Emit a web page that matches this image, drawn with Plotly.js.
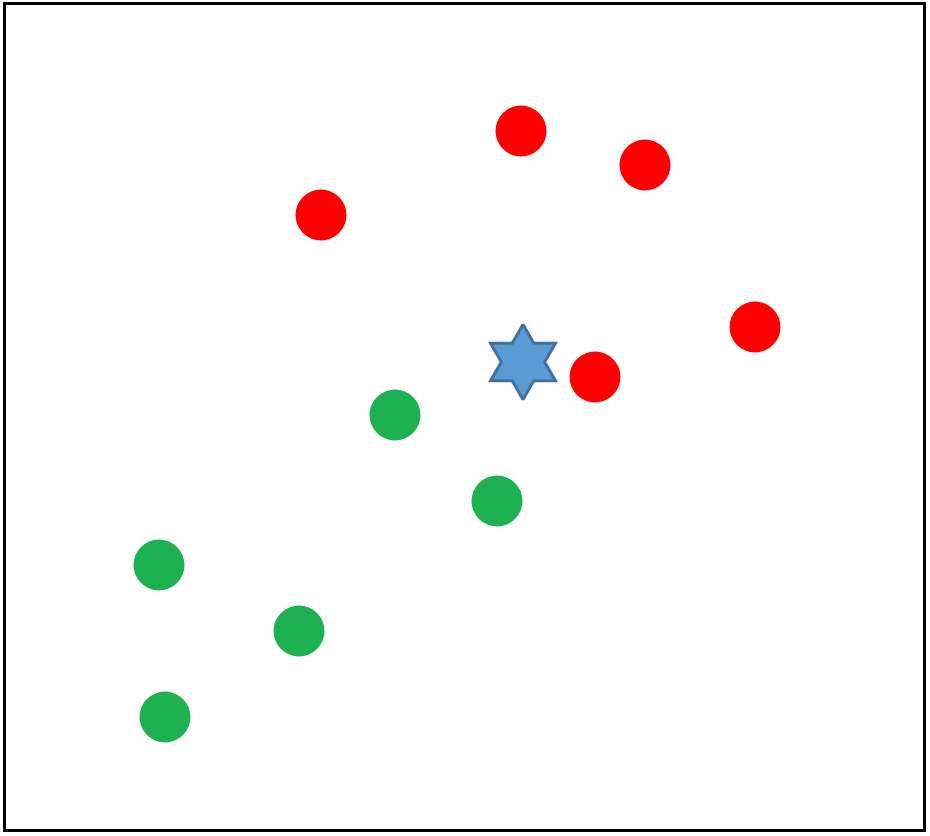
<!DOCTYPE html>
<html>
<head>
<meta charset="utf-8">
<script src="https://cdn.plot.ly/plotly-3.0.1.min.js"></script>
<style>html,body{margin:0;padding:0;background:#fff;}#chart{width:930px;height:836px;}</style>
</head>
<body>
<div id="chart"></div>
<script>
const redX = [521, 645, 321, 755, 595];
const redY = [131, 165, 215, 327, 377];
const greenX = [395, 497, 159, 299, 165];
const greenY = [415, 501, 565, 631, 717];
const starX = [523];
const starY = [362];

const traces = [
  {x: redX, y: redY, type: 'scatter', mode: 'markers', name: 'red',
   marker: {color: '#FF0000', size: 51, line: {width: 0}}},
  {x: greenX, y: greenY, type: 'scatter', mode: 'markers', name: 'green',
   marker: {color: '#1DB151', size: 51, line: {width: 0}}},
  {x: starX, y: starY, type: 'scatter', mode: 'markers', name: 'query',
   marker: {symbol: 'hexagram', color: '#5B9BD5', size: 57, line: {color: '#41719C', width: 3}}}
];

const layout = {
  width: 930, height: 836,
  margin: {l: 6, r: 7, t: 5, b: 7, pad: 0},
  paper_bgcolor: '#fff', plot_bgcolor: '#fff',
  showlegend: false,
  xaxis: {range: [6, 923], showgrid: false, zeroline: false, showticklabels: false, ticks: '',
          showline: true, mirror: true, linecolor: '#000', linewidth: 3, fixedrange: true},
  yaxis: {range: [829, 5], showgrid: false, zeroline: false, showticklabels: false, ticks: '',
          showline: true, mirror: true, linecolor: '#000', linewidth: 3, fixedrange: true}
};

Plotly.newPlot('chart', traces, layout, {displayModeBar: false, staticPlot: true});
</script>
</body>
</html>
